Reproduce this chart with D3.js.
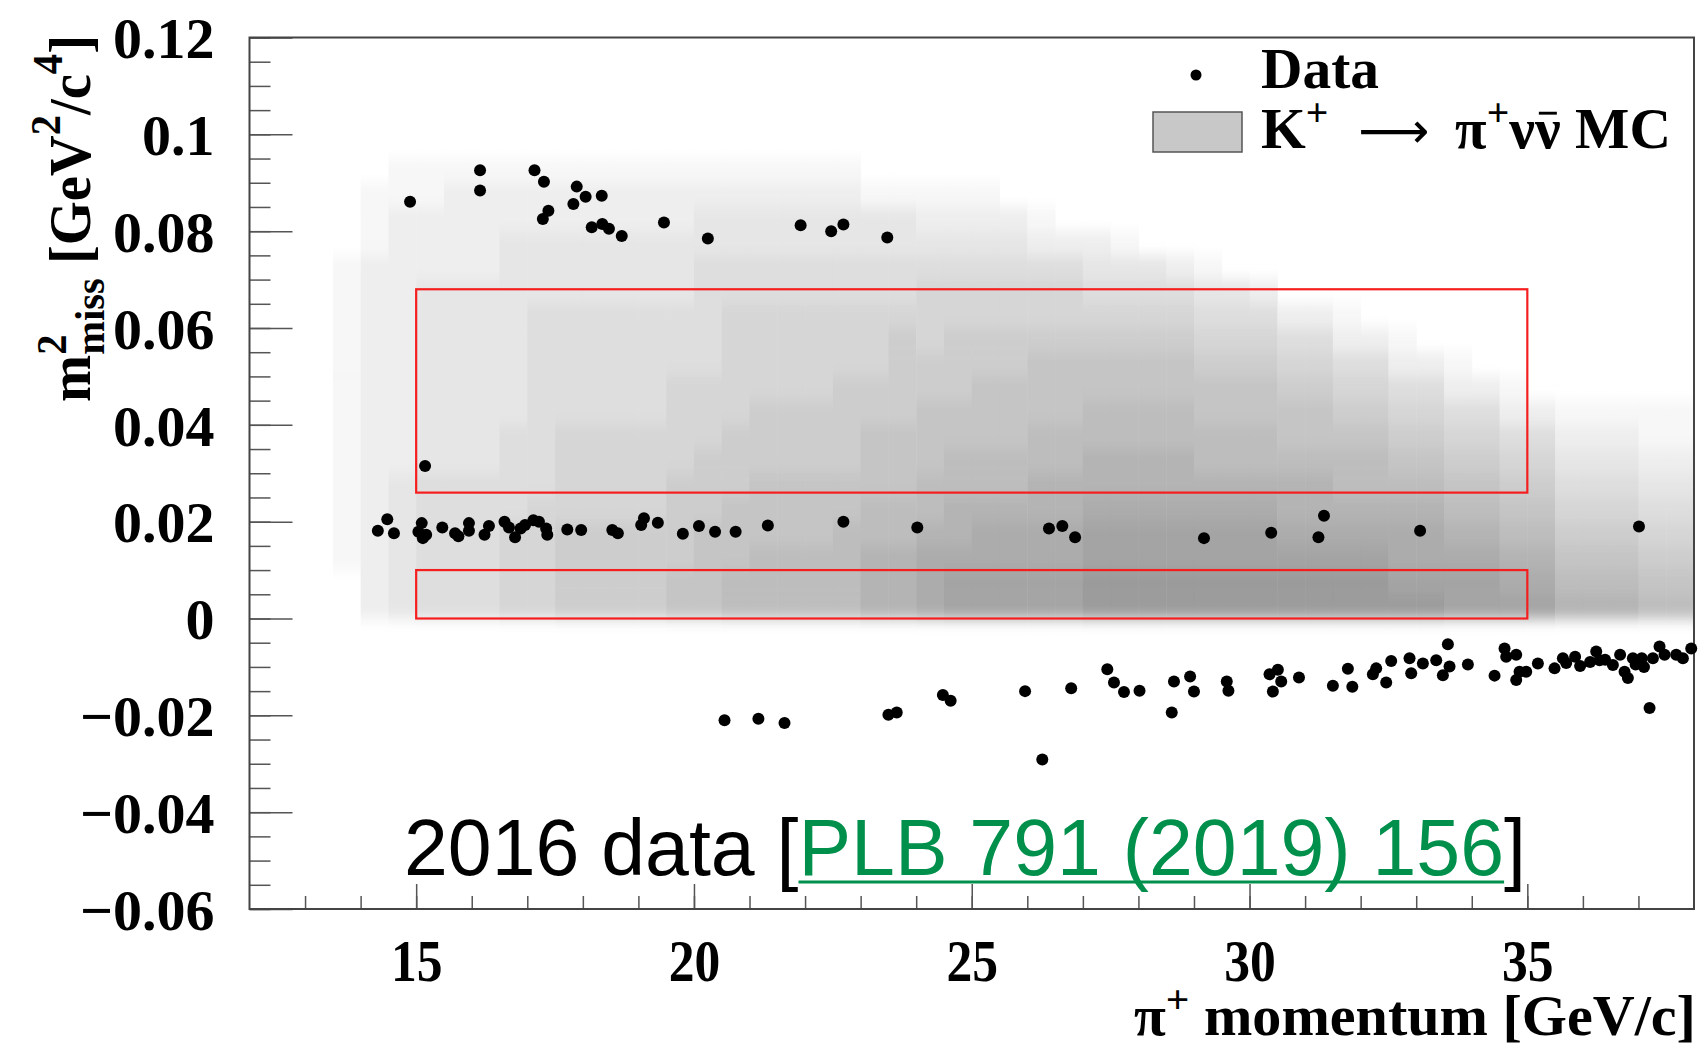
<!DOCTYPE html>
<html>
<head>
<meta charset="utf-8">
<script src="https://cdn.jsdelivr.net/npm/d3@7"></script>
<style>
  html, body { margin: 0; padding: 0; background: #fff; }
  svg { display: block; }
  text { font-family: "Liberation Serif", "Times New Roman", serif; font-weight: bold; fill: #000; }
</style>
</head>
<body>
<script>
"use strict";

// ---- values ----

// axis ticks
const xMajorTicks = [15, 20, 25, 30, 35];
const xTickLabels = ["15", "20", "25", "30", "35"];
const yMajorTicks = [-0.06, -0.04, -0.02, 0, 0.02, 0.04, 0.06, 0.08, 0.1, 0.12];
const yTickLabels = ["\u22120.06", "\u22120.04", "\u22120.02", "0", "0.02", "0.04", "0.06", "0.08", "0.1", "0.12"];

// signal regions (red boxes)
const regionMomentum = [15, 35];
const regionLowEdge = [0, 0.026];
const regionHighEdge = [0.01, 0.068];

// data events: pi+ momentum [GeV/c] and m2miss [GeV2/c4]
const eventMomentum = [
    14.89, 16.15, 16.15, 17.13, 17.30, 17.38, 17.28, 17.89, 17.83, 18.05, 18.34, 18.16, 18.35, 18.47, 18.70,
    19.46, 20.25, 21.92, 22.47, 22.69, 23.48,
    15.16,
    14.31, 14.48, 14.60, 15.04, 15.10, 15.12, 15.18, 15.47, 15.70, 15.76, 15.95, 15.95, 16.23, 16.31, 16.59,
    16.67, 16.78, 16.88, 16.96, 17.11, 17.21, 17.34, 17.36, 17.72, 17.97, 18.53, 18.63, 19.05, 19.10, 19.35,
    19.80, 20.09, 20.38, 20.75, 21.33, 22.69, 24.02, 26.39, 26.63, 26.86, 29.18, 30.39, 31.24, 31.34, 33.07,
    37.01,
    20.55, 21.16, 21.63, 23.50, 23.65, 24.48, 24.62, 25.96, 26.27, 26.79, 27.44, 27.56, 27.74, 28.02, 28.60,
    28.64, 28.93, 29.00, 29.59, 29.62, 30.36, 30.51, 30.57, 30.42, 30.89, 31.50, 31.77, 31.85, 32.22, 32.28,
    32.55, 32.46, 32.88, 32.91, 33.12, 33.36, 33.48, 33.60, 33.57, 33.93, 34.41, 34.59, 34.62, 34.80, 34.80,
    34.86, 34.98, 35.19, 35.49, 35.64, 35.70, 35.86, 35.95, 36.13, 36.24, 36.30, 36.40, 36.54, 36.67, 36.75,
    36.81, 36.90, 36.95, 37.06, 37.10, 37.20, 37.26, 37.38, 37.47, 37.68, 37.80, 37.95
];
const eventMassSq = [
    0.0861, 0.0926, 0.0884, 0.0926, 0.0902, 0.0842, 0.0825, 0.0892, 0.0856, 0.0871, 0.0873, 0.0808, 0.0815, 0.0805, 0.0790,
    0.0818, 0.0785, 0.0812, 0.0800, 0.0814, 0.0787,
    0.0315,
    0.0181, 0.0205, 0.0176, 0.0179, 0.0197, 0.0166, 0.0173, 0.0188, 0.0176, 0.0170, 0.0197, 0.0181, 0.0173, 0.0191, 0.0200,
    0.0188, 0.0168, 0.0186, 0.0193, 0.0203, 0.0200, 0.0186, 0.0173, 0.0184, 0.0183, 0.0183, 0.0176, 0.0193, 0.0207, 0.0198,
    0.0175, 0.0191, 0.0179, 0.0179, 0.0192, 0.0200, 0.0188, 0.0186, 0.0191, 0.0168, 0.0166, 0.0177, 0.0168, 0.0212, 0.0181,
    0.0190,
    -0.0210, -0.0207, -0.0216, -0.0199, -0.0194, -0.0158, -0.0170, -0.0150, -0.0291, -0.0144, -0.0105, -0.0132, -0.0152, -0.0149, -0.0194,
    -0.0130, -0.0120, -0.0151, -0.0130, -0.0149, -0.0115, -0.0106, -0.0130, -0.0151, -0.0122, -0.0139, -0.0104, -0.0141, -0.0115, -0.0103,
    -0.0088, -0.0132, -0.0082, -0.0113, -0.0093, -0.0086, -0.0117, -0.0099, -0.0053, -0.0095, -0.0118, -0.0062, -0.0079, -0.0075, -0.0127,
    -0.0110, -0.0110, -0.0093, -0.0103, -0.0082, -0.0092, -0.0079, -0.0098, -0.0090, -0.0068, -0.0086, -0.0085, -0.0096, -0.0075, -0.0110,
    -0.0123, -0.0082, -0.0095, -0.0082, -0.0100, -0.0185, -0.0082, -0.0058, -0.0075, -0.0075, -0.0082, -0.0062
];

// K+ -> pi+ nu nubar MC: shade level (hex digit, 0 = empty) per 0.5 GeV/c column from 13.5,
// one row per 0.005 GeV2/c4 band, top band first; spaces only group the columns
const mcBinMomentum = 0.5;
const mcBinMass = 0.005;
const mcColumnLow = d3.range(13.5, 38, mcBinMomentum);
const mcRowLow = [0.09, 0.085, 0.08, 0.075, 0.07, 0.065, 0.06, 0.055, 0.05, 0.045,
                  0.04, 0.035, 0.03, 0.025, 0.02, 0.015, 0.01, 0.005, 0];
const mcRows = [
    "0 0 1111 1111111 11111100 000000 0000 000 00 00 00 00 00 000 00",
    "0 1 1122 2222222 22222211 111000 0000 000 00 00 00 00 00 000 00",
    "0 1 2222 2222222 33333333 222210 0000 000 00 00 00 00 00 000 00",
    "0 1 2222 3333333 33333333 333322 2100 000 00 00 00 00 00 000 00",
    "1 2 2222 3333333 44444444 444444 3332 100 00 00 00 00 00 000 00",
    "1 2 2333 3333333 44444444 555555 4444 332 00 00 00 00 00 000 00",
    "1 2 2333 3444444 45555555 555555 5555 444 22 10 00 00 00 000 00",
    "1 2 2333 3444444 45555556 566666 6666 555 44 22 10 00 00 000 00",
    "1 2 2333 3444444 45555556 666677 7777 666 55 44 22 10 00 000 00",
    "1 2 2333 3444445 55555666 667777 7777 777 66 55 44 22 10 000 00",
    "1 2 2333 3444445 55666666 777777 8888 777 77 66 55 44 22 111 11",
    "1 2 2333 4455555 56666677 777788 8888 888 77 77 66 55 44 222 11",
    "1 2 2333 4455555 66666677 788888 9999 888 88 88 77 66 55 333 22",
    "1 2 3444 4455556 66777777 888899 9999 999 99 88 88 77 66 444 33",
    "1 2 3444 4555556 67777788 899999 aaaa aaa 99 99 99 88 77 555 44",
    "1 2 3444 5566666 77777888 99aaaa bbbb bbb aa aa aa 99 88 666 55",
    "1 2 3444 5566666 77888899 aaaaaa bbbb bbb bb bb aa aa 99 777 66",
    "0 2 3444 5566667 78888899 abbbbb cccc ccc cc cc bb bb aa 888 77",
    "0 2 3444 5566667 78888899 abbbbb cccc ccc cc cc cc bb bb 999 88"
];

(function(){
    const width = 1705;
    const height = 1049;
    const plot = { left: 249.5, right: 1694, top: 37.5, bottom: 909 };

    const svg = d3.select("body").append("svg")
        .attr("width", width)
        .attr("height", height);

    const x = d3.scaleLinear().domain([12, 38]).range([plot.left, plot.right]);
    const y = d3.scaleLinear().domain([-0.06, 0.12]).range([plot.bottom, plot.top]);

    const defs = svg.append("defs");
    defs.append("clipPath").attr("id", "plotClip")
        .append("rect")
        .attr("x", plot.left).attr("y", plot.top)
        .attr("width", plot.right - plot.left).attr("height", plot.bottom - plot.top);
    // soften the steps between the mass bands only (columns keep their edges)
    defs.append("filter").attr("id", "bandBlur")
        .attr("x", "-2%").attr("y", "-10%").attr("width", "104%").attr("height", "120%")
        .append("feGaussianBlur")
        .attr("stdDeviation", "0 7");

    drawMC();
    drawRegions();
    drawAxes();
    drawEvents();
    drawLegend();
    drawLabels();

    // grey 2D histogram of the MC
    function drawMC() {
        const shade = k => { const v = Math.round(255 - 8.3 * k); return `rgb(${v},${v},${v})`; };
        const cells = [];
        mcRows.forEach((row, r) => {
            const levels = row.replace(/ /g, "");
            for (let c = 0; c < mcColumnLow.length && c < levels.length; c++) {
                const k = parseInt(levels[c], 16);
                if (k > 0) cells.push({ p: mcColumnLow[c], m: mcRowLow[r], k: k });
            }
        });
        svg.append("g")
            .attr("clip-path", "url(#plotClip)")
            .append("g")
            .attr("filter", "url(#bandBlur)")
            .selectAll("rect")
            .data(cells)
            .join("rect")
                .attr("x", d => x(d.p))
                .attr("y", d => y(d.m + mcBinMass))
                .attr("width", d => x(d.p + mcBinMomentum) - x(d.p) + 0.5)
                .attr("height", d => y(d.m) - y(d.m + mcBinMass) + 0.5)
                .attr("fill", d => shade(d.k));
    }

    // signal regions 1 and 2
    function drawRegions() {
        svg.append("g")
            .selectAll("rect")
            .data(regionLowEdge.map((lo, i) => ({ lo: lo, hi: regionHighEdge[i] })))
            .join("rect")
                .attr("x", x(regionMomentum[0]))
                .attr("width", x(regionMomentum[1]) - x(regionMomentum[0]))
                .attr("y", d => y(d.hi))
                .attr("height", d => y(d.lo) - y(d.hi))
                .attr("fill", "none")
                .attr("stroke", "#f51d1d")
                .attr("stroke-width", 2.2);
    }

    // frame, ticks pointing inwards, tick labels
    function drawAxes() {
        const yMajor = d3.axisLeft(y)
            .tickValues(yMajorTicks)
            .tickSize(-43)
            .tickPadding(35)
            .tickFormat((d, i) => yTickLabels[i]);
        const yMinor = d3.axisLeft(y)
            .tickValues(d3.range(-0.06, 0.1226, 0.005))
            .tickSize(-21);
        const xMajor = d3.axisBottom(x)
            .tickValues(xMajorTicks)
            .tickSize(-25)
            .tickFormat((d, i) => xTickLabels[i]);
        const xMinor = d3.axisBottom(x)
            .tickValues(d3.range(13, 38, 1))
            .tickSize(-13);

        const gyMinor = svg.append("g").attr("transform", `translate(${plot.left},0)`).call(yMinor);
        const gyMajor = svg.append("g").attr("transform", `translate(${plot.left},0)`).call(yMajor);
        const gxMinor = svg.append("g").attr("transform", `translate(0,${plot.bottom})`).call(xMinor);
        const gxMajor = svg.append("g").attr("transform", `translate(0,${plot.bottom})`).call(xMajor);

        // minor ticks carry no labels
        gyMinor.selectAll("text").remove();
        gxMinor.selectAll("text").remove();

        [gyMinor, gyMajor, gxMinor, gxMajor].forEach(g => {
            g.select(".domain").remove();
            g.selectAll("line").attr("stroke", "#555").attr("stroke-width", 1.5);
        });
        gyMajor.selectAll("text")
            .attr("dy", "0.35em")
            .style("font-size", "58px");
        gxMajor.selectAll("text")
            .attr("y", 72)
            .attr("dy", null)
            .attr("transform", "scale(0.86,1)")
            .style("font-size", "60px");

        svg.append("rect")
            .attr("x", plot.left).attr("y", plot.top)
            .attr("width", plot.right - plot.left).attr("height", plot.bottom - plot.top)
            .attr("fill", "none")
            .attr("stroke", "#444")
            .attr("stroke-width", 2);
    }

    // data events
    function drawEvents() {
        svg.append("g")
            .selectAll("circle")
            .data(eventMomentum.map((p, i) => ({ p: p, m: eventMassSq[i] })))
            .join("circle")
                .attr("cx", d => x(d.p))
                .attr("cy", d => y(d.m))
                .attr("r", 6)
                .attr("fill", "#000");
    }

    // text made of runs (sub/superscripts), stretched to a target length
    function richText(runs, opts) {
        const g = svg.append("g");
        const text = g.append("text")
            .style("font-family", opts.family || null)
            .style("font-weight", opts.weight || null);
        let cursor = 0;
        let lastStart = 0;
        const extras = [];
        runs.forEach(run => {
            const start = run.stack ? lastStart : cursor + (run.pad || 0);
            const ts = text.append("tspan")
                .attr("x", start)
                .attr("y", -(run.up || 0))
                .style("font-size", run.size + "px")
                .text(run.t);
            if (run.fill) ts.style("fill", run.fill);
            if (run.family) ts.style("font-family", run.family).style("font-weight", "normal");
            const w = ts.node().getComputedTextLength();
            if (run.bar) extras.push({ x1: start + w * 0.15, x2: start + w * 0.85, y: -(run.up || 0) - run.size * 0.6, c: "#000", sw: run.size * 0.05 });
            if (run.underline) extras.push({ x1: start, x2: start + w, y: run.size * 0.09, c: run.fill, sw: 3 });
            lastStart = start;
            cursor = Math.max(cursor, start + w);
        });
        extras.forEach(e => {
            g.append("line")
                .attr("x1", e.x1).attr("x2", e.x2)
                .attr("y1", e.y).attr("y2", e.y)
                .attr("stroke", e.c)
                .attr("stroke-width", e.sw);
        });
        const s = opts.length ? opts.length / cursor : 1;
        g.attr("transform", opts.place(cursor * s) + ` scale(${s},1)`);
        return g;
    }

    // legend in the top right corner
    function drawLegend() {
        svg.append("circle")
            .attr("cx", 1196).attr("cy", 75)
            .attr("r", 5.5)
            .attr("fill", "#000");
        richText([{ t: "Data", size: 58 }],
            { length: 118, place: () => "translate(1261,88)" });

        svg.append("rect")
            .attr("x", 1153).attr("y", 112)
            .attr("width", 89).attr("height", 40)
            .attr("fill", "#c8c8c8")
            .attr("stroke", "#555")
            .attr("stroke-width", 1.5);
        richText([
            { t: "K", size: 58 },
            { t: "+", size: 40, up: 22 },
            { t: "\u27f6", size: 50, pad: 30, family: "'DejaVu Sans', sans-serif" },
            { t: "\u03c0", size: 58, pad: 26 },
            { t: "+", size: 40, up: 22 },
            { t: "\u03bd", size: 58 },
            { t: "\u03bd", size: 58, bar: true },
            { t: " MC", size: 58 }
        ], { length: 410, place: () => "translate(1261,148)" });
    }

    // axis titles and the publication note
    function drawLabels() {
        richText([
            { t: "\u03c0", size: 56 },
            { t: "+", size: 40, up: 22 },
            { t: " momentum [GeV/c]", size: 56 }
        ], { length: 562, place: w => `translate(${1696 - w},1035)` });

        richText([
            { t: "m", size: 60 },
            { t: "2", size: 43, up: 24 },
            { t: "miss", size: 43, up: -14, stack: true },
            { t: " [GeV", size: 60 },
            { t: "2", size: 43, up: 30 },
            { t: "/c", size: 60 },
            { t: "4", size: 43, up: 28 },
            { t: "]", size: 60 }
        ], { length: 367, place: () => "translate(90,402) rotate(-90)" });

        richText([
            { t: "2016 data [", size: 79 },
            { t: "PLB 791 (2019) 156", size: 79, fill: "#00904c", underline: true },
            { t: "]", size: 79 }
        ], { length: 1122, family: "'Liberation Sans', Arial, sans-serif", weight: "normal",
             place: () => "translate(404,875)" });
    }
})();
</script>
</body>
</html>
